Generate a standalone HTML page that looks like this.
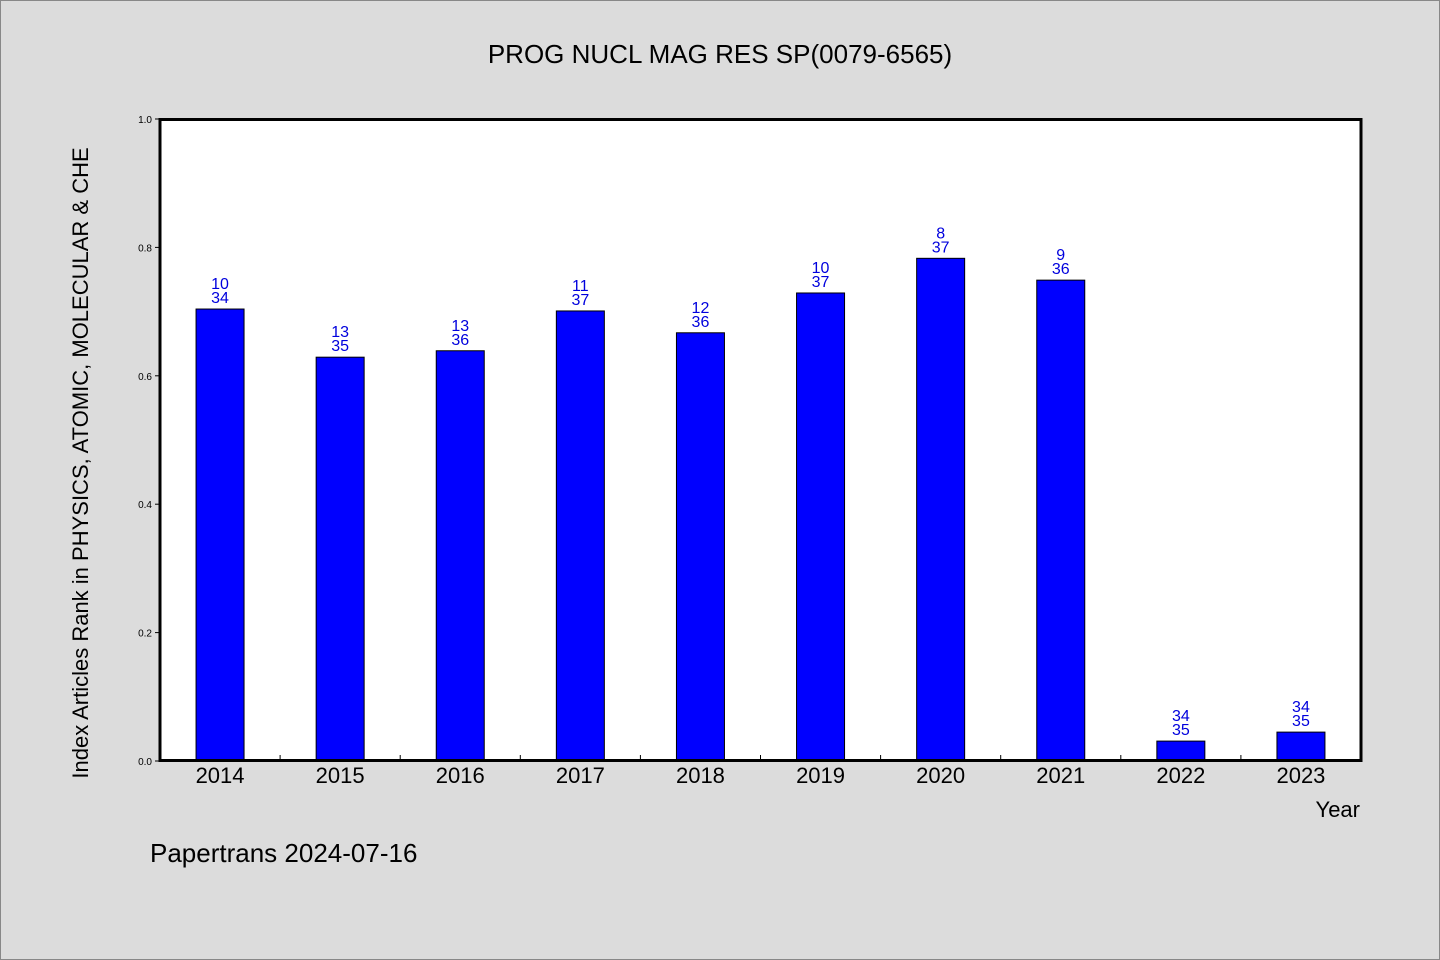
<!DOCTYPE html>
<html><head><meta charset="utf-8"><style>
html,body{margin:0;padding:0;background:#dcdcdc;}
svg{display:block;font-family:"WenQuanYi Zen Hei","Liberation Sans",sans-serif;}
</style></head><body>
<svg id="chart" width="1440" height="960">
<rect x="0.5" y="0.5" width="1439" height="959" fill="#dcdcdc" stroke="#888"/>
<text x="720" y="63" font-size="26" text-anchor="middle" fill="#000">PROG NUCL MAG RES SP(0079-6565)</text>
<rect x="160" y="119.5" width="1201" height="641" fill="#fff"/>
<g id="bars"></g>
<rect x="160" y="119.5" width="1201" height="641" fill="none" stroke="#000" stroke-width="3"/>
<g id="axes"></g>
<text x="88" y="463" font-size="22" text-anchor="middle" transform="rotate(-90 88 463)" fill="#000">Index Articles Rank in PHYSICS, ATOMIC, MOLECULAR &amp; CHE</text>
<text x="1360" y="817" font-size="22" text-anchor="end" fill="#000">Year</text>
<text x="150" y="862" font-size="26" fill="#000">Papertrans 2024-07-16</text>
</svg>
<script>
const categories=["2014","2015","2016","2017","2018","2019","2020","2021","2022","2023"];
const values=[0.704,0.629,0.639,0.701,0.667,0.729,0.783,0.749,0.031,0.045];
const ranks=["10","13","13","11","12","10","8","9","34","34"];
const totals=["34","35","36","37","36","37","37","36","35","35"];
const yTicks=[0,0.2,0.4,0.6,0.8,1.0];
const X0=160,X1=1361,Y0=761,Y1=119;
const slot=(X1-X0)/categories.length;
const xc=i=>X0+slot*(i+0.5);
const y=v=>Y0-(Y0-Y1)*v;
const NS="http://www.w3.org/2000/svg";
const bars=document.getElementById('bars'),axes=document.getElementById('axes');
function mk(tag,attrs,parent,txt){const e=document.createElementNS(NS,tag);for(const k in attrs)e.setAttribute(k,attrs[k]);if(txt!==undefined)e.textContent=txt;parent.appendChild(e);return e;}
categories.forEach((c,i)=>{
  const r=mk('rect',{x:xc(i)-24,y:y(values[i]),width:48,height:Y0-y(values[i]),fill:'#0000ff',stroke:'#000','stroke-width':1},bars);
  
  
  const t1=mk('text',{x:xc(i),y:y(values[i])-20,'font-size':16,'text-anchor':'middle',fill:'#0000dd'},bars,ranks[i]);
  
  
  const t2=mk('text',{x:xc(i),y:y(values[i])-6,'font-size':16,'text-anchor':'middle',fill:'#0000dd'},bars,totals[i]);
  
  
  const xl=mk('text',{x:xc(i),y:783,'font-size':22,'text-anchor':'middle',fill:'#000'},axes,c);
  
  
  if(i>0){const tk=mk('line',{x1:X0+slot*i,x2:X0+slot*i,y1:Y0,y2:Y0-6,stroke:'#000','stroke-width':1},axes);
  
  }
});
yTicks.forEach(v=>{
  const tk=mk('line',{x1:X0-5,x2:X0,y1:y(v),y2:y(v),stroke:'#000','stroke-width':1},axes);
  
  
  const l=mk('text',{x:X0-8,y:y(v)+4,'font-size':10,'text-anchor':'end',fill:'#000'},axes,v.toFixed(1));
  
  
});
</script>
</body></html>
